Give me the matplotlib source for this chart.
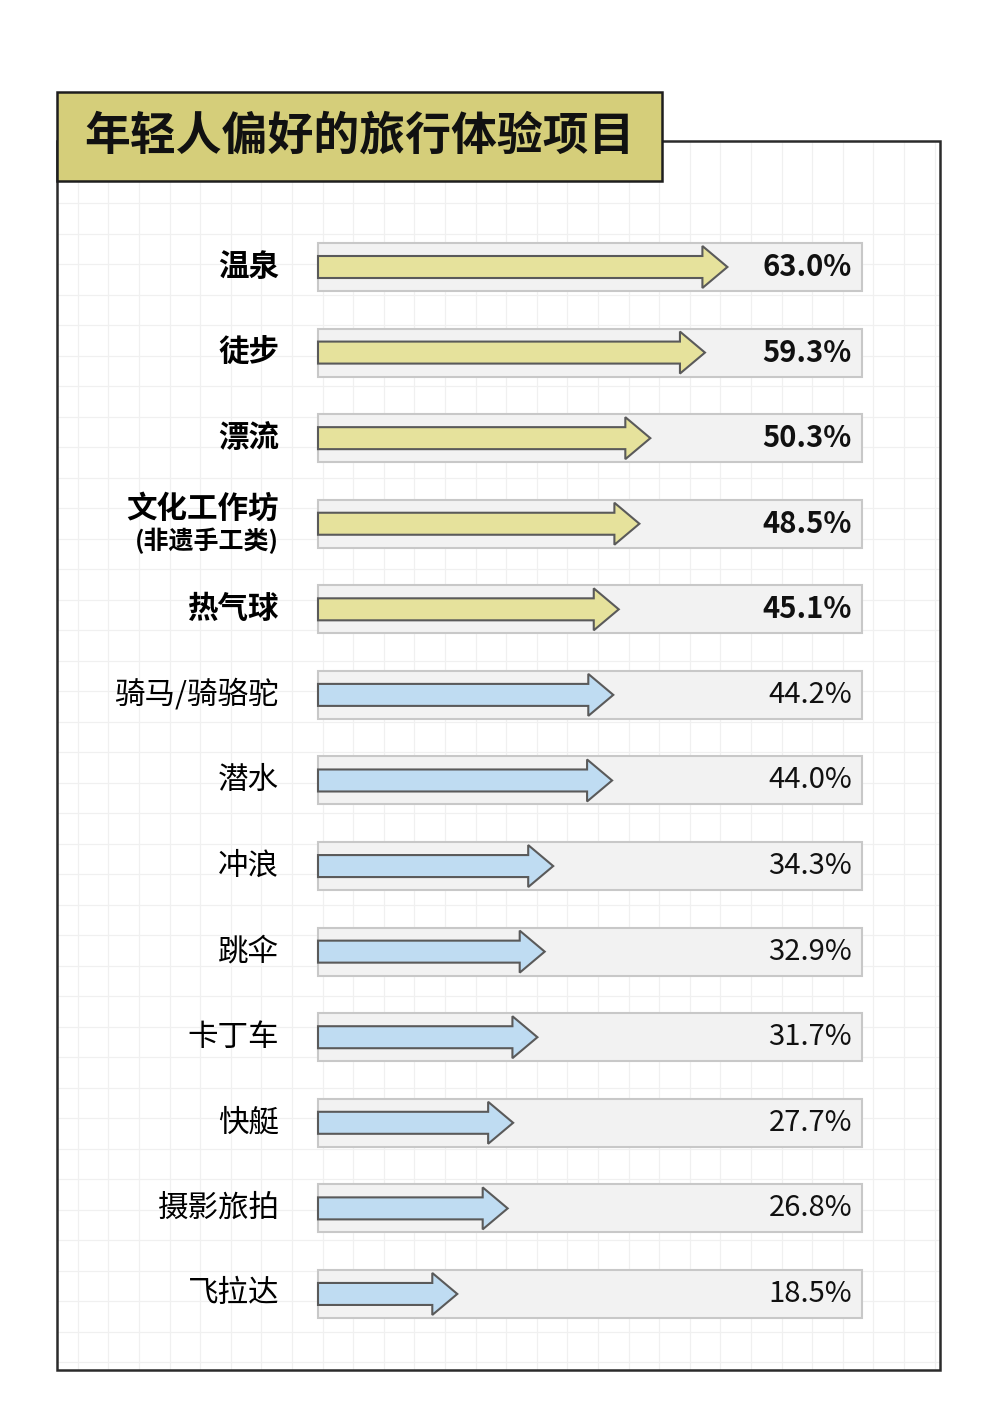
import matplotlib
matplotlib.use("Agg")
import matplotlib.pyplot as plt
from matplotlib.patches import Rectangle, FancyArrow

# ---------- DATA ----------
categories = ["温泉", "徒步", "漂流", "文化工作坊", "热气球", "骑马/骑骆驼", "潜水",
              "冲浪", "跳伞", "卡丁车", "快艇", "摄影旅拍", "飞拉达"]
sublabels = ["", "", "", "(非遗手工类)", "", "", "", "", "", "", "", "", ""]
values = [63.0, 59.3, 50.3, 48.5, 45.1, 44.2, 44.0, 34.3, 32.9, 31.7, 27.7, 26.8, 18.5]
highlight = [True] * 5 + [False] * 8
title = "年轻人偏好的旅行体验项目"

# ---------- CONFIG ----------
W, H = 1000, 1417
yellow = "#e6e29c"
blue = "#bfdcf2"
title_bg = "#d5ce7a"
edge = "#5a5a5a"
plt.rcParams['font.family'] = ['Noto Sans CJK SC', 'DejaVu Sans']

fig = plt.figure(figsize=(W / 100, H / 100), dpi=100)

# background layer in pixel coordinates: grid, frame and title box
bg = fig.add_axes([0, 0, 1, 1])
bg.set_xlim(0, W)
bg.set_ylim(H, 0)
bg.axis("off")

box_l, box_r, box_t, box_b = 57, 940, 141, 1370
gx = 77.7
while gx < box_r:
    bg.plot([gx, gx], [box_t, box_b], color="#f0f0f0", lw=0.9, zorder=0)
    gx += 30.6
gy = 203.3
while gy < box_b:
    bg.plot([box_l, box_r], [gy, gy], color="#f0f0f0", lw=0.9, zorder=0)
    gy += 30.5
bg.add_patch(Rectangle((box_l, box_t), box_r - box_l, box_b - box_t,
                       fill=False, ec="#2b2b2b", lw=1.8, zorder=2))
bg.add_patch(Rectangle((57, 92), 605, 89, fc=title_bg, ec="#1e1e1e", lw=1.8, zorder=3))
bg.text(84, 137, title, fontsize=33, fontweight="bold", va="center", ha="left",
        color="#111111", zorder=4)

# data layer: one row per category
ax = fig.add_axes([300 / W, 1 - 1340 / H, 580 / W, 1120 / H])
px0, px_per = 345.0, 6.07       # pixel position of value 0 and pixels per percent
row0, row_step = 267.0, 85.58
ax.set_xlim((300 - px0) / px_per, (880 - px0) / px_per)
ax.set_ylim((1340 - row0) / row_step, (220 - row0) / row_step)
ax.axis("off")
ax.patch.set_alpha(0)

x_start = (318 - px0) / px_per
x_end = (862 - px0) / px_per
bar_h = 48 / row_step
for i, (cat, sub, v, hl) in enumerate(zip(categories, sublabels, values, highlight)):
    ax.add_patch(Rectangle((x_start, i - bar_h / 2), x_end - x_start, bar_h,
                           fc="#f2f2f2", ec="#c8c8c8", lw=1.5, zorder=1))
    ax.add_patch(FancyArrow(x_start, i, v - x_start, 0, width=22 / row_step,
                            head_width=42 / row_step, head_length=25 / px_per,
                            length_includes_head=True, fc=yellow if hl else blue,
                            ec=edge, lw=1.5, zorder=2))
    w = "bold" if hl else "normal"
    lx = (279 - px0) / px_per
    if sub:
        ax.text(lx, i - 0.17, cat, ha="right", va="center", fontsize=22, fontweight=w,
                clip_on=False)
        ax.text(lx, i + 0.2, sub, ha="right", va="center", fontsize=18, fontweight=w,
                clip_on=False)
    else:
        ax.text(lx, i, cat, ha="right", va="center", fontsize=22, fontweight=w,
                clip_on=False)
    ax.text((852 - px0) / px_per, i, f"{v:.1f}%", ha="right", va="center",
            fontsize=21, fontweight=w, color="#111111", zorder=3)

fig.savefig("out.png", dpi=100, facecolor="white")
